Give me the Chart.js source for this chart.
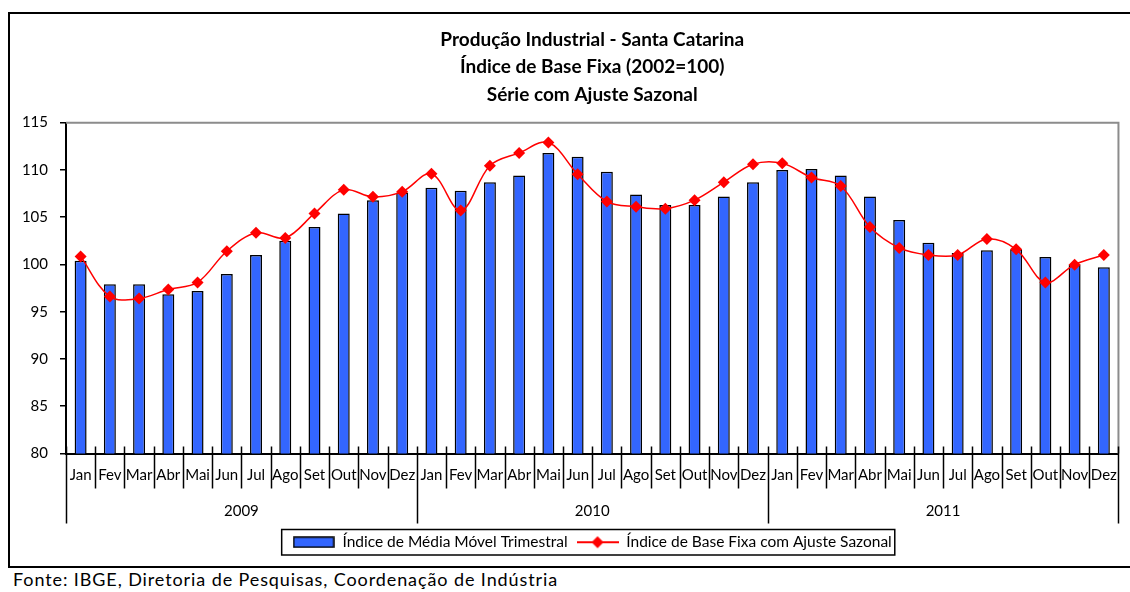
<!DOCTYPE html>
<html lang="pt">
<head>
    <meta charset="UTF-8">
    <title>Produção Industrial - Santa Catarina</title>
    <script src="https://cdn.jsdelivr.net/npm/chart.js"></script>
    <style>
        body {
            margin: 0;
            background-color: white;
            font-family: Lato, sans-serif;
        }
        .frame {
            position: absolute;
            left: 8px;
            top: 12px;
            width: 1140px;
            height: 552px;
            border: 2px solid black;
        }
        .fonte {
            position: absolute;
            left: 13px;
            top: 568px;
            font-size: 18px;
            letter-spacing: 0.9px;
            color: black;
        }
        canvas {
            position: absolute;
            left: 0;
            top: 0;
        }
    </style>
</head>
<body>
    <div class="frame"></div>
    <div class="fonte">Fonte: IBGE, Diretoria de Pesquisas, Coordenação de Indústria</div>
    <canvas id="prodChart" width="1130" height="592"></canvas>

    <script>
        const months = ['Jan', 'Fev', 'Mar', 'Abr', 'Mai', 'Jun', 'Jul', 'Ago', 'Set', 'Out', 'Nov', 'Dez'];
        const years = ['2009', '2010', '2011'];

        // Índice de Média Móvel Trimestral (bars)
        const mediaMovel = [
            100.4, 97.9, 97.9, 96.85, 97.2, 99.0, 101.0, 102.5, 103.95, 105.4, 106.8, 107.6,
            108.1, 107.8, 108.7, 109.4, 111.8, 111.4, 109.8, 107.4, 106.3, 106.3, 107.2, 108.7,
            110.0, 110.1, 109.4, 107.2, 104.7, 102.3, 101.2, 101.5, 101.6, 100.8, 100.0, 99.7
        ];

        // Índice de Base Fixa com Ajuste Sazonal (line)
        const ajusteSazonal = [
            100.85, 96.6, 96.4, 97.35, 98.1, 101.4, 103.35, 102.8, 105.4, 107.9, 107.15, 107.7,
            109.6, 105.7, 110.45, 111.8, 112.9, 109.55, 106.65, 106.1, 105.9, 106.8, 108.7, 110.6,
            110.7, 109.2, 108.3, 103.95, 101.75, 101.0, 101.0, 102.7, 101.6, 98.1, 99.98, 101.0
        ];

        const labels = years.flatMap(() => months);

        function swatch(w, h, draw) {
            const c = document.createElement('canvas');
            c.width = w;
            c.height = h;
            draw(c.getContext('2d'), w, h);
            return c;
        }

        const barSwatch = swatch(42, 12, (ctx, w, h) => {
            ctx.fillStyle = '#3366FF';
            ctx.fillRect(1, 1, w - 2, h - 2);
            ctx.strokeStyle = 'black';
            ctx.lineWidth = 1.5;
            ctx.strokeRect(1, 1, w - 2, h - 2);
        });

        const lineSwatch = swatch(42, 14, (ctx, w, h) => {
            ctx.strokeStyle = '#FF0000';
            ctx.lineWidth = 2;
            ctx.beginPath();
            ctx.moveTo(0, h / 2);
            ctx.lineTo(w, h / 2);
            ctx.stroke();
            ctx.fillStyle = '#FF0000';
            ctx.beginPath();
            ctx.moveTo(w / 2, 1);
            ctx.lineTo(w / 2 + 6, h / 2);
            ctx.lineTo(w / 2, h - 1);
            ctx.lineTo(w / 2 - 6, h / 2);
            ctx.closePath();
            ctx.fill();
        });

        // month separators, year labels, plot border and legend frame
        const decor = {
            id: 'decor',
            afterDraw(chart) {
                const ctx = chart.ctx;
                const a = chart.chartArea;
                const x = chart.scales.x;
                ctx.save();

                ctx.strokeStyle = '#8c8c8c';
                ctx.lineWidth = 2;
                ctx.beginPath();
                ctx.moveTo(a.left, a.top);
                ctx.lineTo(a.right, a.top);
                ctx.lineTo(a.right, a.bottom);
                ctx.stroke();

                const step = x.getPixelForValue(1) - x.getPixelForValue(0);
                ctx.strokeStyle = 'black';
                ctx.lineWidth = 1.5;
                for (let i = 0; i <= labels.length; i++) {
                    const px = Math.round(x.getPixelForValue(i) - step / 2) + 0.5;
                    const long = i % months.length === 0;
                    ctx.beginPath();
                    ctx.moveTo(px, a.bottom - 7);
                    ctx.lineTo(px, a.bottom + (long ? 70 : 35));
                    ctx.stroke();
                }

                ctx.fillStyle = 'black';
                ctx.font = '15px Lato';
                ctx.textAlign = 'center';
                ctx.textBaseline = 'middle';
                years.forEach((y, k) => {
                    const first = x.getPixelForValue(k * months.length);
                    const last = x.getPixelForValue((k + 1) * months.length - 1);
                    ctx.fillText(y, (first + last) / 2, a.bottom + 58);
                });

                const boxes = chart.legend.legendHitBoxes;
                if (boxes && boxes.length) {
                    const left = Math.min(...boxes.map(b => b.left)) - 11;
                    const right = Math.max(...boxes.map(b => b.left + b.width)) + 3;
                    const top = boxes[0].top - 5;
                    const bottom = boxes[0].top + boxes[0].height + 5;
                    ctx.lineWidth = 1.5;
                    ctx.strokeRect(left, top, right - left, bottom - top);
                }
                ctx.restore();
            }
        };

        const ctx = document.getElementById('prodChart').getContext('2d');
        new Chart(ctx, {
            data: {
                labels: labels,
                datasets: [
                    {
                        type: 'bar',
                        label: 'Índice de Média Móvel Trimestral',
                        data: mediaMovel,
                        backgroundColor: '#3366FF',
                        borderColor: 'black',
                        borderWidth: 1.5,
                        categoryPercentage: 1,
                        barPercentage: 0.41,
                        order: 1
                    },
                    {
                        type: 'line',
                        label: 'Índice de Base Fixa com Ajuste Sazonal',
                        data: ajusteSazonal,
                        borderColor: '#FF0000',
                        borderWidth: 1.5,
                        backgroundColor: '#FF0000',
                        pointStyle: 'rectRot',
                        pointRadius: 6,
                        pointBorderWidth: 0,
                        tension: 0.35,
                        order: 0
                    }
                ]
            },
            options: {
                responsive: false,
                animation: false,
                devicePixelRatio: 1,
                layout: {
                    padding: { left: 0, right: 8, top: 0, bottom: 32 }
                },
                scales: {
                    x: {
                        grid: { display: false, drawTicks: false },
                        border: { display: true, color: 'black', width: 2 },
                        ticks: {
                            color: 'black',
                            font: { family: 'Lato', size: 15 },
                            padding: 13,
                            autoSkip: false,
                            maxRotation: 0
                        },
                        afterFit(scale) { scale.height = 72; }
                    },
                    y: {
                        min: 80,
                        max: 115,
                        ticks: {
                            stepSize: 5,
                            color: 'black',
                            font: { family: 'Lato', size: 15 },
                            padding: 12
                        },
                        grid: {
                            drawOnChartArea: false,
                            drawTicks: true,
                            tickLength: 6,
                            color: 'black',
                            lineWidth: 1.5
                        },
                        border: { display: true, color: 'black', width: 2 },
                        afterFit(scale) { scale.width = 66; }
                    }
                },
                plugins: {
                    title: {
                        display: true,
                        fullSize: false,
                        text: ['Produção Industrial - Santa Catarina', 'Índice de Base Fixa (2002=100)', 'Série com Ajuste Sazonal'],
                        color: 'black',
                        font: { family: 'Lato', size: 19, weight: 'bold', lineHeight: 1.45 },
                        padding: { top: 26, bottom: 14 }
                    },
                    legend: {
                        position: 'bottom',
                        fullSize: false,
                        labels: {
                            usePointStyle: true,
                            pointStyleWidth: 42,
                            boxHeight: 12,
                            padding: 9,
                            color: 'black',
                            font: { family: 'Lato', size: 15.5 },
                            generateLabels(chart) {
                                return chart.data.datasets.map((ds, i) => ({
                                    text: ds.label,
                                    pointStyle: i === 0 ? barSwatch : lineSwatch,
                                    fillStyle: ds.backgroundColor,
                                    strokeStyle: ds.borderColor,
                                    lineWidth: 0,
                                    hidden: false,
                                    datasetIndex: i
                                }));
                            }
                        }
                    },
                    tooltip: { enabled: false }
                }
            },
            plugins: [decor]
        });
    </script>
</body>
</html>
